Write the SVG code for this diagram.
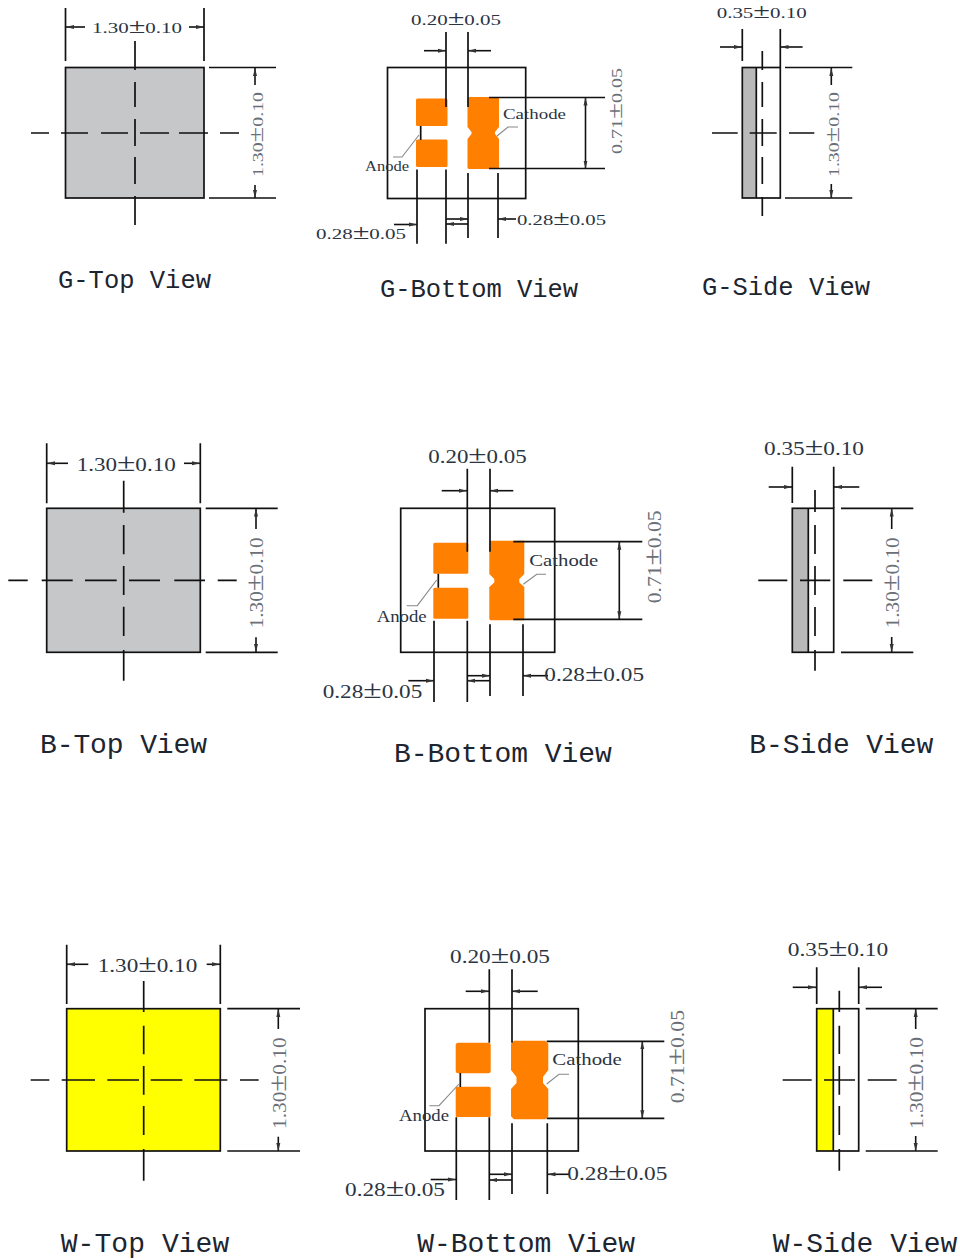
<svg xmlns="http://www.w3.org/2000/svg" width="960" height="1260" viewBox="0 0 960 1260">
<style>
.o{stroke:#111;stroke-width:1.7}
.l{fill:none;stroke:#111;stroke-width:1.7}
.a{fill:none;stroke:#111;stroke-width:1.6;marker-end:url(#ah)}
.g{fill:none;stroke:#888;stroke-width:1.1}
.p{fill:#ff7f00}
.t{font-family:"Liberation Serif",serif;fill:#2b3442;text-anchor:start}
.s{font-size:15px}.m{font-size:18px}.r{fill:#6a6f78}
.c{font-size:15px}.c2{font-size:17px}
.h{font-family:"Liberation Mono",monospace;fill:#1d2530;font-size:25.5px}.h2{font-size:28px}
.pm{font-size:1.45em}
</style>
<defs><marker id="ah" markerUnits="userSpaceOnUse" markerWidth="9" markerHeight="6" refX="8" refY="3" orient="auto"><path d="M0 1L8 3L0 5Z" fill="#333"/></marker></defs>

<g id="g-top">
<rect x="65.5" y="67.5" width="138.5" height="130.5" fill="#c6c7c9" class="o"/>
<path class="l" d="M65.5 8V61M204 8V61M135 41V70M135 82V107M135 119V146M135 157V184M135 196V225M31 133H49M61 133H88M101 133H128M140 133H169M179 133H208M220 133H239M209 67.5H276M209 198H276"/>
<path class="a" d="M85 27H66"/><path class="a" d="M189 27H204"/><path class="a" d="M255 85V68"/><path class="a" d="M255 185V198"/>
<text class="t s" x="92" y="33" textLength="90" lengthAdjust="spacingAndGlyphs">1.30<tspan class="pm">±</tspan>0.10</text>
<text class="t s r" transform="translate(263 177) rotate(-90)" textLength="85" lengthAdjust="spacingAndGlyphs">1.30<tspan class="pm">±</tspan>0.10</text>
<text class="t h" x="58" y="288" textLength="153">G-Top View</text>
</g>

<g id="g-bottom">
<rect x="387.5" y="67.5" width="138.2" height="131" fill="none" class="o"/>
<rect class="p" x="416" y="98.5" width="31.5" height="27.5" rx="1.5"/><rect class="p" x="416" y="139.5" width="31.5" height="27.5" rx="1.5"/>
<path class="p" d="M468.5 97H499V127L495 132V134L499 139V169H468.5L467.5 168V139L471.5 134V132L467.5 127V98Z"/>
<path class="l" d="M446 32V107M468 32V107M417 169.5V243.7M446 169.5V243.7M468 173V238M498 173V238M489 97.5H605M489 168.5H605M420.7 126V140"/>
<path class="g" d="M419 135L402 157H393M497 136L508 127H518"/>
<path class="a" d="M424 50.7H446"/><path class="a" d="M491 50.7H468"/><path class="a" d="M446 219H468"/><path class="a" d="M468 224H446"/><path class="a" d="M394 224.5H417"/><path class="a" d="M516 219H498"/><path class="a" d="M585.5 133V97.5"/><path class="a" d="M585.5 133V168.5"/>
<text class="t s" x="411" y="25" textLength="90" lengthAdjust="spacingAndGlyphs">0.20<tspan class="pm">±</tspan>0.05</text>
<text class="t s" x="316" y="239" textLength="90" lengthAdjust="spacingAndGlyphs">0.28<tspan class="pm">±</tspan>0.05</text>
<text class="t s" x="517" y="225" textLength="89" lengthAdjust="spacingAndGlyphs">0.28<tspan class="pm">±</tspan>0.05</text>
<text class="t c" x="503" y="119" textLength="63" lengthAdjust="spacingAndGlyphs">Cathode</text>
<text class="t c" x="365" y="171" textLength="44" lengthAdjust="spacingAndGlyphs">Anode</text>
<text class="t s r" transform="translate(622 154) rotate(-90)" textLength="86" lengthAdjust="spacingAndGlyphs">0.71<tspan class="pm">±</tspan>0.05</text>
<text class="t h" x="380" y="297" textLength="198">G-Bottom View</text>
</g>

<g id="g-side">
<rect x="742.3" y="67.5" width="14" height="130.5" fill="#b9b9b9"/>
<rect x="742.3" y="67.5" width="38" height="130.5" fill="none" class="o"/>
<path class="l" d="M756.3 67.5V198M742.3 29V61M780.3 29V67M762.3 51V70M762.3 82V107M762.3 119V146M762.3 157V184M762.3 197V216M712 133H737.7M749.7 133H776.7M789 133H814.3M785 67.5H852.3M785 198H852.3"/>
<path class="a" d="M720 47H742"/><path class="a" d="M802.6 47H780.5"/><path class="a" d="M831.3 85V68"/><path class="a" d="M831.3 184V198"/>
<text class="t s" x="716.7" y="18" textLength="90" lengthAdjust="spacingAndGlyphs">0.35<tspan class="pm">±</tspan>0.10</text>
<text class="t s r" transform="translate(838.7 177) rotate(-90)" textLength="85" lengthAdjust="spacingAndGlyphs">1.30<tspan class="pm">±</tspan>0.10</text>
<text class="t h" x="702" y="295" textLength="168">G-Side View</text>
</g>

<g id="b-top">
<rect x="46.7" y="508.3" width="153.6" height="144" fill="#c6c7c9" class="o"/>
<path class="l" d="M46.7 443.3V503.3M200.3 443.3V503.3M123.7 480.7V512.7M123.7 525V554.3M123.7 566V595M123.7 606.7V636M123.7 650V680.7M8.3 580.3H27.7M41.7 580.3H72.7M85 580.3H116.7M129 580.3H160M174.3 580.3H205M217.7 580.3H236.7M205.7 508.3H277.7M205.7 652.3H277.7"/>
<path class="a" d="M68 463.3H47"/><path class="a" d="M184 463.3H200"/><path class="a" d="M256 529V508.5"/><path class="a" d="M256 637.3V652"/>
<text class="t m" x="76.7" y="470.5" textLength="99" lengthAdjust="spacingAndGlyphs">1.30<tspan class="pm">±</tspan>0.10</text>
<text class="t m r" transform="translate(263.3 628.3) rotate(-90)" textLength="91" lengthAdjust="spacingAndGlyphs">1.30<tspan class="pm">±</tspan>0.10</text>
<text class="t h h2" x="40" y="752.7" textLength="167">B-Top View</text>
</g>

<g id="b-bottom">
<rect x="400.7" y="508.3" width="154" height="144" fill="none" class="o"/>
<rect class="p" x="433.3" y="542.7" width="35" height="31" rx="1.5"/><rect class="p" x="433.3" y="587.7" width="35" height="31" rx="1.5"/>
<path class="p" d="M490.3 540.7H524.3V574L519.3 579V582.5L524.3 587V620.3H490.3L489.3 619V587L494.3 582.5V579L489.3 574V542Z"/>
<path class="l" d="M467.3 468.7V551.7M490 468.7V551.7M434 620.7V702M467.3 620.7V702M490 624.3V696M523 624.3V696M513.3 541.7H642.3M513.3 619.3H642.3M438.3 573.7V587.7"/>
<path class="g" d="M436.7 580L417.3 605.7H406.7M523.3 584.3L536.7 574.3H546"/>
<path class="a" d="M441.7 490.7H467"/><path class="a" d="M513.3 490.7H490"/><path class="a" d="M467.3 675.7H490"/><path class="a" d="M490 680.7H467.3"/><path class="a" d="M408.3 680.7H434"/><path class="a" d="M548 675.7H523"/><path class="a" d="M619.3 580V541.7"/><path class="a" d="M619.3 580V619.3"/>
<text class="t m" x="428.3" y="462.5" textLength="98.4" lengthAdjust="spacingAndGlyphs">0.20<tspan class="pm">±</tspan>0.05</text>
<text class="t m" x="322.7" y="697.5" textLength="99.6" lengthAdjust="spacingAndGlyphs">0.28<tspan class="pm">±</tspan>0.05</text>
<text class="t m" x="544.3" y="680.5" textLength="99.7" lengthAdjust="spacingAndGlyphs">0.28<tspan class="pm">±</tspan>0.05</text>
<text class="t c2" x="529.3" y="565.7" textLength="69" lengthAdjust="spacingAndGlyphs">Cathode</text>
<text class="t c2" x="376.7" y="622.3" textLength="50" lengthAdjust="spacingAndGlyphs">Anode</text>
<text class="t m r" transform="translate(660.7 603.3) rotate(-90)" textLength="93" lengthAdjust="spacingAndGlyphs">0.71<tspan class="pm">±</tspan>0.05</text>
<text class="t h h2" x="394" y="761.7" textLength="217.7">B-Bottom View</text>
</g>

<g id="b-side">
<rect x="792.3" y="508.3" width="16" height="144" fill="#b9b9b9"/>
<rect x="792.3" y="508.3" width="41.4" height="144" fill="none" class="o"/>
<path class="l" d="M808.3 508.3V652.3M792.3 466.7V503M833.7 466.7V508M815 490V512M815 525V554M815 566V595M815 607V636M815 650V670.7M758.3 580.3H787.3M800 580.3H830.3M843.3 580.3H872.3M841 508.3H913.3M841 652.3H913.3"/>
<path class="a" d="M768.7 487H792"/><path class="a" d="M859.3 487H834"/><path class="a" d="M891.7 529V508.5"/><path class="a" d="M891.7 637V652"/>
<text class="t m" x="764" y="455" textLength="100" lengthAdjust="spacingAndGlyphs">0.35<tspan class="pm">±</tspan>0.10</text>
<text class="t m r" transform="translate(899.3 628.3) rotate(-90)" textLength="91" lengthAdjust="spacingAndGlyphs">1.30<tspan class="pm">±</tspan>0.10</text>
<text class="t h h2" x="749.3" y="752.7" textLength="184">B-Side View</text>
</g>

<g id="w-top">
<rect x="66.7" y="1008.7" width="153.6" height="142.3" fill="#ffff00" class="o"/>
<path class="l" d="M66.7 944.7V1004M220.3 944.7V1004M143.7 981V1012M143.7 1025.7V1054.3M143.7 1066V1094.7M143.7 1106V1135M143.7 1149V1180.7M30.7 1080H49.3M61.7 1080H95M107.3 1080H139M150.7 1080H182.3M194.3 1080H227.3M240 1080H258.7M227.3 1008.7H300M227.3 1151H300"/>
<path class="a" d="M88.3 964.3H67"/><path class="a" d="M206.7 964.3H220"/><path class="a" d="M278.3 1029V1009"/><path class="a" d="M278.3 1136.7V1151"/>
<text class="t m" x="97.7" y="971.5" textLength="99.6" lengthAdjust="spacingAndGlyphs">1.30<tspan class="pm">±</tspan>0.10</text>
<text class="t m r" transform="translate(286 1129) rotate(-90)" textLength="91.7" lengthAdjust="spacingAndGlyphs">1.30<tspan class="pm">±</tspan>0.10</text>
<text class="t h h2" x="60.7" y="1251.7" textLength="168.6">W-Top View</text>
</g>

<g id="w-bottom">
<rect x="425" y="1008.7" width="153.3" height="142.3" fill="none" class="o"/>
<rect class="p" x="455.7" y="1042.7" width="35" height="30.6" rx="2.5"/><rect class="p" x="455.7" y="1086.7" width="35" height="30.3" rx="1.5"/>
<path class="p" d="M514 1040.7H545.3L548.3 1043.7V1070L543 1077V1083L548.3 1089V1116.3L545.3 1119.3H514L511 1116.3V1089L516.5 1083V1077L511 1070V1043.7Z"/>
<path class="l" d="M489.3 969.3V1042.7M512 969.3V1042.7M456.3 1117.3V1200M489.3 1117.3V1200M512 1123.3V1194M547.3 1123.3V1194M546.7 1041.3H664.3M546.7 1118.3H664.3M460.3 1073V1087"/>
<path class="g" d="M459 1084L439 1105.7H429.3M546.7 1084L559 1074.3H569"/>
<path class="a" d="M465.7 991.3H489"/><path class="a" d="M537.7 991.3H512"/><path class="a" d="M489.3 1174.3H512"/><path class="a" d="M512 1180H489.3"/><path class="a" d="M430.7 1179.5H456"/><path class="a" d="M570 1174.3H547.5"/><path class="a" d="M642.3 1080V1041.3"/><path class="a" d="M642.3 1080V1118.3"/>
<text class="t m" x="450" y="963.3" textLength="100" lengthAdjust="spacingAndGlyphs">0.20<tspan class="pm">±</tspan>0.05</text>
<text class="t m" x="345" y="1195.5" textLength="100" lengthAdjust="spacingAndGlyphs">0.28<tspan class="pm">±</tspan>0.05</text>
<text class="t m" x="567.3" y="1180" textLength="100" lengthAdjust="spacingAndGlyphs">0.28<tspan class="pm">±</tspan>0.05</text>
<text class="t c2" x="552.3" y="1065" textLength="69.4" lengthAdjust="spacingAndGlyphs">Cathode</text>
<text class="t c2" x="399" y="1121" textLength="50" lengthAdjust="spacingAndGlyphs">Anode</text>
<text class="t m r" transform="translate(684.3 1103.3) rotate(-90)" textLength="93.3" lengthAdjust="spacingAndGlyphs">0.71<tspan class="pm">±</tspan>0.05</text>
<text class="t h h2" x="417.3" y="1251.7" textLength="217.7">W-Bottom View</text>
</g>

<g id="w-side">
<rect x="816.7" y="1008.7" width="16.6" height="142.3" fill="#ffff00"/>
<rect x="816.7" y="1008.7" width="42" height="142.3" fill="none" class="o"/>
<path class="l" d="M833.3 1008.7V1151M816.7 967.3V1004M858.7 967.3V1004M839.3 990.7V1012M839.3 1025.7V1054M839.3 1066V1094.7M839.3 1106V1135M839.3 1149V1170.7M782.7 1080H811.7M824 1080H855M867.7 1080H896.7M865.7 1008.7H937.7M865.7 1151H937.7"/>
<path class="a" d="M792.7 987.3H816"/><path class="a" d="M882 987.3H859"/><path class="a" d="M915.7 1029V1009"/><path class="a" d="M915.7 1136V1151"/>
<text class="t m" x="787.7" y="956" textLength="100.6" lengthAdjust="spacingAndGlyphs">0.35<tspan class="pm">±</tspan>0.10</text>
<text class="t m r" transform="translate(922.7 1129) rotate(-90)" textLength="92" lengthAdjust="spacingAndGlyphs">1.30<tspan class="pm">±</tspan>0.10</text>
<text class="t h h2" x="772.7" y="1251.7" textLength="184.6">W-Side View</text>
</g>
</svg>
